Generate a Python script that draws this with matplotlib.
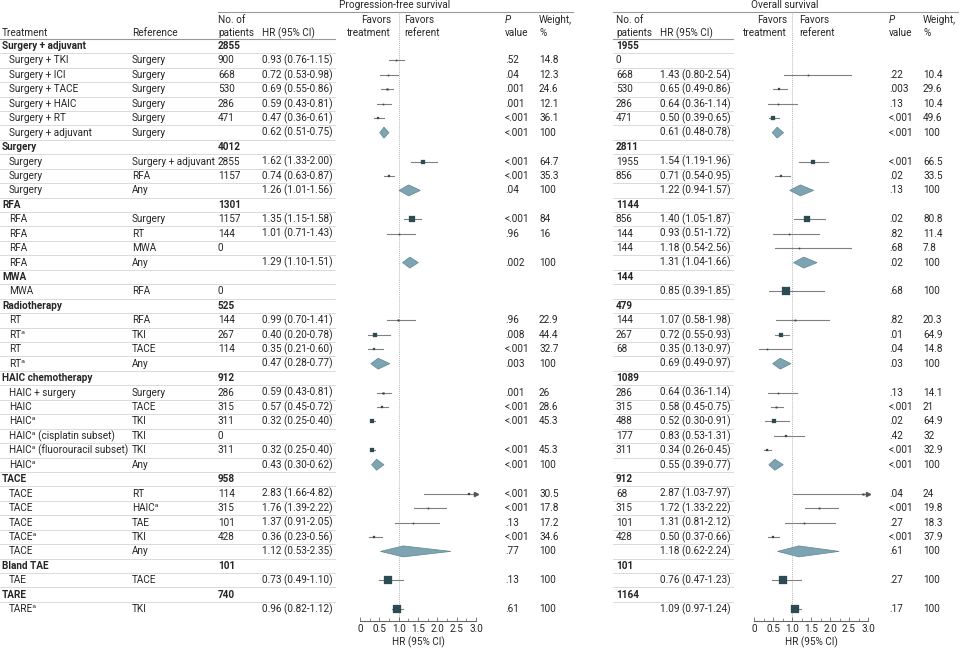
import matplotlib
matplotlib.use("Agg")
import matplotlib.pyplot as plt
from matplotlib.patches import Polygon

plt.rcParams['font.family'] = ['Liberation Sans Narrow', 'Roboto', 'DejaVu Sans']

# ---- data (one entry per table row) ----
kind = ['group', 'row', 'row', 'row', 'row', 'row', 'pool',
        'group', 'row', 'row', 'pool',
        'group', 'row', 'row', 'row', 'pool',
        'group', 'row',
        'group', 'row', 'row', 'row', 'pool',
        'group', 'row', 'row', 'row', 'row', 'row', 'pool',
        'group', 'row', 'row', 'row', 'row', 'pool',
        'group', 'row',
        'group', 'row']
treatment = ['Surgery + adjuvant', 'Surgery + TKI', 'Surgery + ICI', 'Surgery + TACE', 'Surgery + HAIC',
             'Surgery + RT', 'Surgery + adjuvant',
             'Surgery', 'Surgery', 'Surgery', 'Surgery',
             'RFA', 'RFA', 'RFA', 'RFA', 'RFA',
             'MWA', 'MWA',
             'Radiotherapy', 'RT', 'RTᵃ', 'RT', 'RTᵃ',
             'HAIC chemotherapy', 'HAIC + surgery', 'HAIC', 'HAICᵃ', 'HAICᵃ (cisplatin subset)',
             'HAICᵃ (fluorouracil subset)', 'HAICᵃ',
             'TACE', 'TACE', 'TACE', 'TACE', 'TACEᵃ', 'TACE',
             'Bland TAE', 'TAE',
             'TARE', 'TAREᵃ']
reference = ['', 'Surgery', 'Surgery', 'Surgery', 'Surgery', 'Surgery', 'Surgery',
             '', 'Surgery + adjuvant', 'RFA', 'Any',
             '', 'Surgery', 'RT', 'MWA', 'Any',
             '', 'RFA',
             '', 'RFA', 'TKI', 'TACE', 'Any',
             '', 'Surgery', 'TACE', 'TKI', 'TKI', 'TKI', 'Any',
             '', 'RT', 'HAICᵃ', 'TAE', 'TKI', 'Any',
             '', 'TACE',
             '', 'TKI']

# progression-free survival
pfs_n = ['2855', '900', '668', '530', '286', '471', '',
         '4012', '2855', '1157', '',
         '1301', '1157', '144', '0', '',
         '', '0',
         '525', '144', '267', '114', '',
         '912', '286', '315', '311', '0', '311', '',
         '958', '114', '315', '101', '428', '',
         '101', '',
         '740', '']
pfs_hr = [None, 0.93, 0.72, 0.69, 0.59, 0.47, 0.62,
          None, 1.62, 0.74, 1.26,
          None, 1.35, 1.01, None, 1.29,
          None, None,
          None, 0.99, 0.40, 0.35, 0.47,
          None, 0.59, 0.57, 0.32, None, 0.32, 0.43,
          None, 2.83, 1.76, 1.37, 0.36, 1.12,
          None, 0.73,
          None, 0.96]
pfs_lo = [None, 0.76, 0.53, 0.55, 0.43, 0.36, 0.51,
          None, 1.33, 0.63, 1.01,
          None, 1.15, 0.71, None, 1.10,
          None, None,
          None, 0.70, 0.20, 0.21, 0.28,
          None, 0.43, 0.45, 0.25, None, 0.25, 0.30,
          None, 1.66, 1.39, 0.91, 0.23, 0.53,
          None, 0.49,
          None, 0.82]
pfs_hi = [None, 1.15, 0.98, 0.86, 0.81, 0.61, 0.75,
          None, 2.00, 0.87, 1.56,
          None, 1.58, 1.43, None, 1.51,
          None, None,
          None, 1.41, 0.78, 0.60, 0.77,
          None, 0.81, 0.72, 0.40, None, 0.40, 0.62,
          None, 4.82, 2.22, 2.05, 0.56, 2.35,
          None, 1.10,
          None, 1.12]
pfs_p = ['', '.52', '.04', '.001', '.001', '<.001', '<.001',
         '', '<.001', '<.001', '.04',
         '', '<.001', '.96', '', '.002',
         '', '',
         '', '.96', '.008', '<.001', '.003',
         '', '.001', '<.001', '<.001', '', '<.001', '<.001',
         '', '<.001', '<.001', '.13', '<.001', '.77',
         '', '.13',
         '', '.61']
pfs_w = [None, 14.8, 12.3, 24.6, 12.1, 36.1, 100,
         None, 64.7, 35.3, 100,
         None, 84, 16, None, 100,
         None, None,
         None, 22.9, 44.4, 32.7, 100,
         None, 26, 28.6, 45.3, None, 45.3, 100,
         None, 30.5, 17.8, 17.2, 34.6, 100,
         None, 100,
         None, 100]

# overall survival
os_n = ['1955', '0', '668', '530', '286', '471', '',
        '2811', '1955', '856', '',
        '1144', '856', '144', '144', '',
        '144', '',
        '479', '144', '267', '68', '',
        '1089', '286', '315', '488', '177', '311', '',
        '912', '68', '315', '101', '428', '',
        '101', '',
        '1164', '']
os_hr = [None, None, 1.43, 0.65, 0.64, 0.50, 0.61,
         None, 1.54, 0.71, 1.22,
         None, 1.40, 0.93, 1.18, 1.31,
         None, 0.85,
         None, 1.07, 0.72, 0.35, 0.69,
         None, 0.64, 0.58, 0.52, 0.83, 0.34, 0.55,
         None, 2.87, 1.72, 1.31, 0.50, 1.18,
         None, 0.76,
         None, 1.09]
os_lo = [None, None, 0.80, 0.49, 0.36, 0.39, 0.48,
         None, 1.19, 0.54, 0.94,
         None, 1.05, 0.51, 0.54, 1.04,
         None, 0.39,
         None, 0.58, 0.55, 0.13, 0.49,
         None, 0.36, 0.45, 0.30, 0.53, 0.26, 0.39,
         None, 1.03, 1.33, 0.81, 0.37, 0.62,
         None, 0.47,
         None, 0.97]
os_hi = [None, None, 2.54, 0.86, 1.14, 0.65, 0.78,
         None, 1.96, 0.95, 1.57,
         None, 1.87, 1.72, 2.56, 1.66,
         None, 1.85,
         None, 1.98, 0.93, 0.97, 0.97,
         None, 1.14, 0.75, 0.91, 1.31, 0.45, 0.77,
         None, 7.97, 2.22, 2.12, 0.66, 2.24,
         None, 1.23,
         None, 1.24]
os_p = ['', '', '.22', '.003', '.13', '<.001', '<.001',
        '', '<.001', '.02', '.13',
        '', '.02', '.82', '.68', '.02',
        '', '.68',
        '', '.82', '.01', '.04', '.03',
        '', '.13', '<.001', '.02', '.42', '<.001', '<.001',
        '', '.04', '<.001', '.27', '<.001', '.61',
        '', '.27',
        '', '.17']
os_w = [None, None, 10.4, 29.6, 10.4, 49.6, 100,
        None, 66.5, 33.5, 100,
        None, 80.8, 11.4, 7.8, 100,
        None, 100,
        None, 20.3, 64.9, 14.8, 100,
        None, 14.1, 21, 64.9, 32, 32.9, 100,
        None, 24, 19.8, 18.3, 37.9, 100,
        None, 100,
        None, 100]

ticks = [0, 0.5, 1.0, 1.5, 2.0, 2.5, 3.0]
tick_labels = ['0', '0.5', '1.0', '1.5', '2.0', '2.5', '3.0']

# ---- layout (pixels of a 960x649 figure) ----
W, H = 960, 649
ROW0, ROWH = 46.0, 14.44
FS = 7.2
TXT = '#262626'
SQ = '#2c4c54'
DIA = '#7ea4b1'
CI = '#808080'
SEP = '#d4d4d4'


def row_of(px):
    return (px - ROW0) / ROWH


fig = plt.figure(figsize=(W / 100, H / 100), dpi=100)
bg = fig.add_axes([0, 0, 1, 1])
bg.set_xlim(0, W)
bg.set_ylim(row_of(H), row_of(0))
bg.axis('off')


def txt(x, y, s, **kw):
    kw.setdefault('ha', 'left')
    bg.text(x, y, s, va='center', fontsize=FS, color=TXT, **kw)


n_rows = len(treatment)

# headers
txt(395, row_of(5), 'Progression-free survival', ha='center')
txt(785, row_of(5), 'Overall survival', ha='center')
bg.plot([218, 573], [row_of(12)] * 2, color='#999999', lw=0.8)
bg.plot([613, 958], [row_of(12)] * 2, color='#999999', lw=0.8)
y1, y2 = row_of(20), row_of(33)
txt(2, y2, 'Treatment')
txt(132, y2, 'Reference')
for xn, xh, xft, xfr, xp, xw in [(218, 262, 391, 404, 505, 539),
                                 (616, 660, 787, 799, 889, 923)]:
    txt(xn, y1, 'No. of')
    txt(xn, y2, 'patients')
    txt(xh, y2, 'HR (95% CI)')
    txt(xft, y1, 'Favors', ha='right')
    txt(xft, y2, 'treatment', ha='right')
    txt(xfr, y1, 'Favors')
    txt(xfr, y2, 'referent')
    txt(xp, y1, 'P', style='italic')
    txt(xp, y2, 'value')
    txt(xw, y1, 'Weight,')
    txt(xw, y2, '%')
bg.plot([0, 335], [-0.5, -0.5], color='#999999', lw=0.8)
bg.plot([613, 733], [-0.5, -0.5], color='#999999', lw=0.8)

# table body
for i in range(n_rows):
    bold = 'bold' if kind[i] == 'group' else 'normal'
    txt(2 if kind[i] == 'group' else 9, i, treatment[i], fontweight=bold)
    txt(132, i, reference[i])
    for xn, xh, xp, xw, n, hr, lo, hi, p, w in [
            (218, 262, 505, 539, pfs_n[i], pfs_hr[i], pfs_lo[i], pfs_hi[i], pfs_p[i], pfs_w[i]),
            (616, 660, 889, 923, os_n[i], os_hr[i], os_lo[i], os_hi[i], os_p[i], os_w[i])]:
        txt(xn, i, n, fontweight=bold)
        if hr is not None:
            txt(xh, i, f'{hr:.2f} ({lo:.2f}-{hi:.2f})')
            txt(xp, i, p)
            txt(xw, i, f'{w:g}')
    if i < n_rows - 1:
        bg.plot([0, 335], [i + 0.5] * 2, color=SEP, lw=0.6)
        bg.plot([613, 733], [i + 0.5] * 2, color=SEP, lw=0.6)


# forest panels
def forest(x0, x1, hrs, los, his, ws):
    top, bottom = 13, 621
    ax = fig.add_axes([x0 / W, (H - bottom) / H, (x1 - x0) / W, (bottom - top) / H])
    ax.set_facecolor('none')
    ax.set_xlim(0, 3)
    ax.set_ylim(row_of(bottom), row_of(top))
    ax.axvline(1.0, color='#b8b8b8', lw=0.7, ls=(0, (1, 1)), zorder=0)
    for i in range(n_rows):
        hr = hrs[i]
        if hr is None:
            continue
        lo, hi = los[i], his[i]
        if kind[i] == 'pool':
            h = 0.38
            ax.add_patch(Polygon([(lo, i), (hr, i - h), (hi, i), (hr, i + h)], closed=True,
                                 facecolor=DIA, edgecolor='#5f8694', lw=0.5, zorder=3))
        else:
            ax.plot([lo, min(hi, 3.0)], [i, i], color=CI, lw=0.8, zorder=2, clip_on=False)
            if hi > 3.0:
                ax.plot([3.0], [i], marker='>', ms=3, color='#555555', clip_on=False, zorder=3)
            ax.plot([hr], [i], marker='s', ms=max(0.052 * ws[i], 0.9), color=SQ,
                    mec=SQ, mew=0.2, zorder=4, clip_on=False)
    for s in ['left', 'right', 'top']:
        ax.spines[s].set_visible(False)
    ax.spines['bottom'].set_color('#666666')
    ax.spines['bottom'].set_linewidth(0.8)
    ax.set_yticks([])
    ax.set_xticks(ticks)
    ax.set_xticklabels(tick_labels)
    ax.set_xticks([0.25, 0.75, 1.25, 1.75, 2.25, 2.75], minor=True)
    ax.tick_params(axis='x', which='major', direction='in', length=3, width=0.6,
                   color='#666666', labelsize=FS, labelcolor=TXT, pad=2)
    ax.tick_params(axis='x', which='minor', direction='in', length=2, width=0.5, color='#666666')
    ax.set_xlabel('HR (95% CI)', fontsize=FS, color=TXT, labelpad=2)
    return ax


forest(360, 476, pfs_hr, pfs_lo, pfs_hi, pfs_w)
forest(754, 868, os_hr, os_lo, os_hi, os_w)

fig.savefig('out.png', dpi=100, facecolor='white')
